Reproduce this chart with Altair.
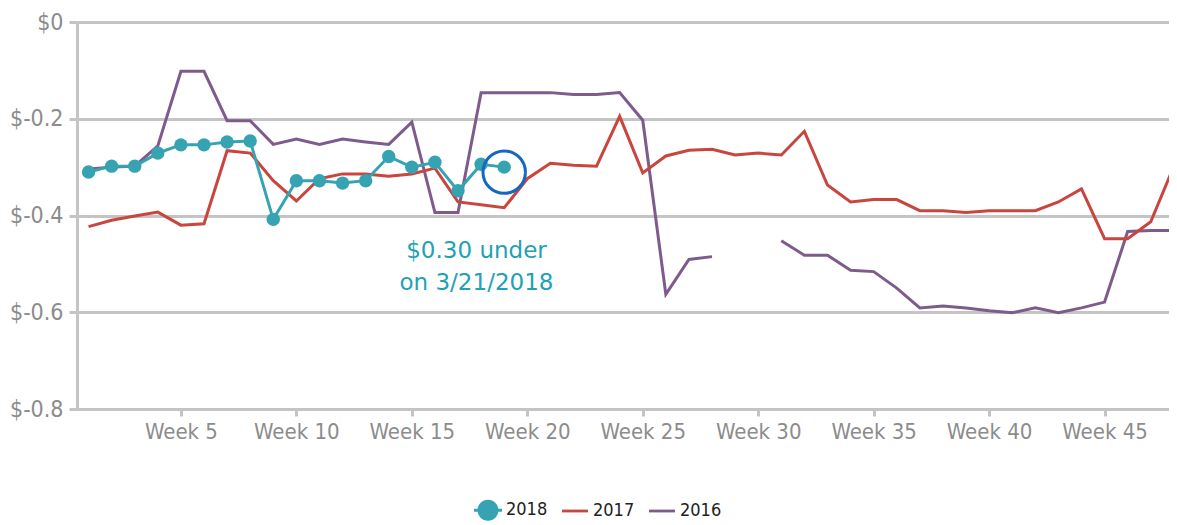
import altair as alt
import pandas as pd

weeks = list(range(1, 49))

v2018 = [-0.310, -0.298, -0.298, -0.271, -0.254, -0.254, -0.248, -0.246, -0.408, -0.328,
         -0.328, -0.333, -0.328, -0.278, -0.300, -0.290, -0.349, -0.294, -0.300]

v2017 = [-0.423, -0.410, -0.401, -0.393, -0.420, -0.417, -0.266, -0.271, -0.328, -0.370,
         -0.324, -0.314, -0.314, -0.319, -0.314, -0.302, -0.372, -0.378, -0.384, -0.324,
         -0.292, -0.296, -0.298, -0.195, -0.312, -0.277, -0.265, -0.263, -0.275, -0.271,
         -0.275, -0.226, -0.337, -0.372, -0.367, -0.367, -0.390, -0.390, -0.394, -0.390,
         -0.390, -0.390, -0.372, -0.345, -0.448, -0.448, -0.413, -0.298]

v2016 = [-0.304, -0.300, -0.298, -0.256, -0.102, -0.102, -0.204, -0.204, -0.253, -0.242,
         -0.253, -0.242, -0.248, -0.253, -0.207, -0.394, -0.394, -0.146, -0.146, -0.146,
         -0.146, -0.150, -0.150, -0.146, -0.203, -0.563, -0.491, -0.485, None, None,
         -0.452, -0.482, -0.482, -0.513, -0.516, -0.550, -0.591, -0.587, -0.591, -0.597,
         -0.601, -0.591, -0.601, -0.591, -0.579, -0.433, -0.431, -0.431]

series = ["2018", "2017", "2016"]
colors = ["#36a3b2", "#c8463d", "#7d5b8c"]

y_ticks = [0, -0.2, -0.4, -0.6, -0.8]
x_ticks = [5, 10, 15, 20, 25, 30, 35, 40, 45]

note_lines = ["$0.30 under", "on 3/21/2018"]
note_week = [17.8, 17.8]
note_value = [-0.474, -0.540]


def frame(vals, name):
    rows, seg = [], 0
    for w, v in zip(weeks, vals):
        if v is None:
            seg += 1
            continue
        rows.append({"week": w, "value": v, "series": name, "seg": seg})
    return pd.DataFrame(rows)


d18 = frame(v2018, "2018")
d17 = frame(v2017, "2017")
d16 = frame(v2016, "2016")
last18 = d18.tail(1)
notes = pd.DataFrame({"week": note_week, "value": note_value, "text": note_lines})
legend_df = pd.DataFrame({"series": series})

FONT = "DejaVu Sans Condensed"
GRID = "#c4c4c4"

x_enc = alt.X("week:Q", scale=alt.Scale(domain=[0.5, 47.79], nice=False, zero=False),
              axis=alt.Axis(values=x_ticks, labelExpr="'Week ' + datum.value", grid=False,
                            domainColor=GRID, domainWidth=3, tickColor=GRID, tickWidth=3,
                            tickSize=7, labelFontSize=22, labelColor="#8c8c8c",
                            labelFont=FONT, labelPadding=5, title=None))
y_enc = alt.Y("value:Q", scale=alt.Scale(domain=[-0.8, 0], nice=False, zero=False),
              axis=alt.Axis(values=y_ticks,
                            labelExpr="datum.value == 0 ? '$0' : '$-' + format(abs(datum.value), '.1f')",
                            grid=True, gridColor=GRID, gridWidth=3, domainColor=GRID,
                            domainWidth=3, tickColor=GRID, tickWidth=3, tickSize=8,
                            labelFontSize=23, labelColor="#8c8c8c", labelFont=FONT,
                            labelPadding=6, title=None))

l16 = alt.Chart(d16).mark_line(color=colors[2], strokeWidth=3).encode(
    x=x_enc, y=y_enc, detail="seg:N")
l17 = alt.Chart(d17).mark_line(color=colors[1], strokeWidth=3).encode(x="week:Q", y="value:Q")
l18 = alt.Chart(d18).mark_line(color=colors[0], strokeWidth=3).encode(x="week:Q", y="value:Q")
p18 = alt.Chart(d18).mark_circle(color=colors[0], size=180, opacity=1).encode(
    x="week:Q", y="value:Q")
ring = alt.Chart(last18).mark_point(shape="circle", size=1800, filled=False,
                                    color="#1766c0", strokeWidth=3, opacity=1,
                                    yOffset=5).encode(x="week:Q", y="value:Q")
txt = alt.Chart(notes).mark_text(font="DejaVu Sans", fontSize=23, color="#22a1b6",
                                 align="center", baseline="middle").encode(
    x="week:Q", y="value:Q", text="text:N")

circle_line = ("M-1.05,0A1.05,1.05 0 1,1 1.05,0A1.05,1.05 0 1,1 -1.05,0Z"
               " M-1.4,-0.14H1.4V0.14H-1.4Z")
bar = "M-1.3,-0.14H1.3V0.14H-1.3Z"
leg_common = dict(title=None, orient="none", direction="horizontal", legendX=401,
                  legendY=478, symbolSize=400, symbolOpacity=1, symbolStrokeWidth=0,
                  labelFontSize=18, labelColor="#222222", labelFont=FONT,
                  labelOffset=8, columnPadding=14)
leg = alt.Chart(legend_df).mark_point(filled=True, opacity=0).encode(
    color=alt.Color("series:N", scale=alt.Scale(domain=series, range=colors),
                    legend=alt.Legend(**leg_common), sort=series),
    shape=alt.Shape("series:N", scale=alt.Scale(domain=series,
                                                range=[circle_line, bar, bar]),
                    legend=alt.Legend(**leg_common), sort=series),
)

chart = alt.layer(l16, l17, l18, p18, ring, txt, leg).properties(
    width=1092, height=387,
    autosize=alt.AutoSizeParams(type="none"),
    padding={"left": 69, "top": 14, "right": 0, "bottom": 114},
).configure_view(stroke=None)

chart.save("out.html", embed_options={"renderer": "svg", "actions": False})
